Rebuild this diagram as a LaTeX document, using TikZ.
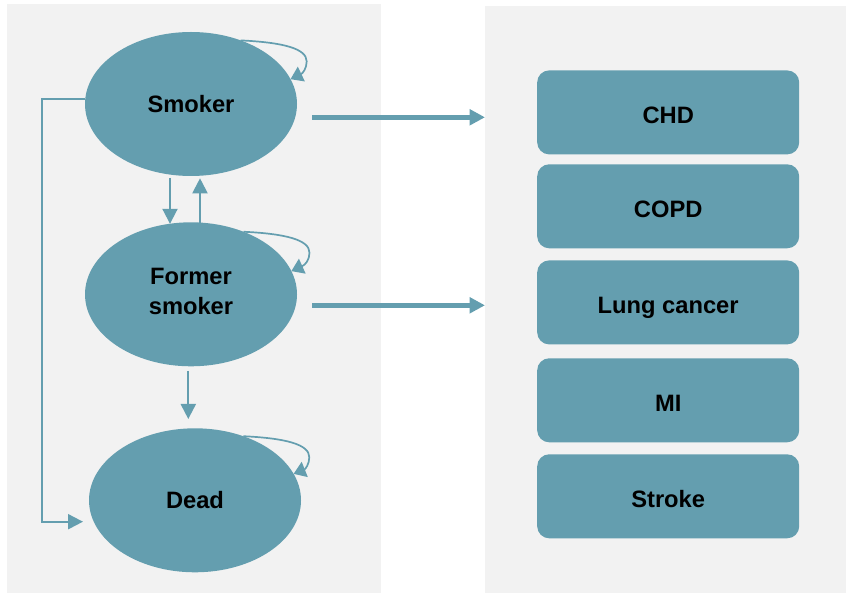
\documentclass[tikz,border=0pt]{standalone}
\usepackage{fontspec}
\setmainfont{Liberation Sans}
\usetikzlibrary{shapes.geometric,arrows.meta,calc}
\definecolor{tealfill}{HTML}{649EAF}
\definecolor{panelgray}{HTML}{F2F2F2}
\newcommand\mkloop[3]{%
  \draw[loopline] (#1.#2) .. controls ($(#1.#2)+(42,2)$) and ($(#1.#2)+(66,8)$) .. ($(#1.#2)+(66,21)$)
     .. controls ($(#1.#2)+(66,28)$) and ($(#1.#2)+(62,33)$) .. (#1.#3);}
\begin{document}
\begin{tikzpicture}[x=1pt,y=-1pt,
  panel/.style={draw=none,fill=panelgray,inner sep=0pt,outer sep=0pt},
  state/.style={ellipse,fill=tealfill,draw=none,minimum width=212pt,minimum height=144pt,inner sep=0pt,outer sep=0pt,
     align=center,font=\fontsize{23.7}{29.4}\selectfont\bfseries},
  outcome/.style={rectangle,rounded corners=12pt,fill=tealfill,draw=none,minimum width=262pt,minimum height=84pt,
     inner sep=0pt,text height=22.8pt,text depth=0pt,font=\fontsize{23.7}{29.4}\selectfont\bfseries},
  thinarrow/.style={draw=tealfill,line width=2pt,-{Triangle[length=15pt,width=15pt]}},
  bigarrow/.style={draw=tealfill,line width=5pt,-{Triangle[length=15.5pt,width=15.5pt]}},
  loopline/.style={draw=tealfill,line width=1.7pt,-{Triangle[length=12pt,width=16pt]}}]
\useasboundingbox (0,0) rectangle (846,593);
% panels
\node[panel,minimum width=374pt,minimum height=589pt] (lpanel) at (194,298.5) {};
\node[panel,minimum width=361pt,minimum height=587pt] (rpanel) at (665.5,299.5) {};
% states
\node[state] (smoker) at (191,104) {Smoker};
\node[state,text depth=6pt] (former) at (191,294.3) {Former\\smoker};
\node[state] (dead) at (195,500.3) {Dead};
% outcomes
\node[outcome] (chd) at (668.2,112.4) {CHD};
\node[outcome] (copd) at (668.2,206.3) {COPD};
\node[outcome] (lung) at (668.2,302.4) {Lung cancer};
\node[outcome] (mi) at (668.2,400.3) {MI};
\node[outcome] (stroke) at (668.2,496.3) {Stroke};
% self loops
\mkloop{smoker}{52}{14}
\mkloop{former}{50}{13}
\mkloop{dead}{53}{15}
% vertical transitions
\draw[thinarrow] ($(smoker.south)+(-21,2)$) -- ($(former.north)+(-21,1.5)$);
\draw[thinarrow] ($(former.north)+(9,0.5)$) -- ($(smoker.south)+(9,2.3)$);
\draw[thinarrow] ($(former.south)+(-2.7,4.7)$) -- ($(dead.north)+(-6.7,-9.3)$);
% smoker to dead
\coordinate (lc) at ($(smoker.west)+(-43.3,-5)$);
\coordinate (lt) at ($(dead.west)+(-6,21.4)$);
\draw[thinarrow] ($(smoker.west)+(0,-5)$) -- (lc) |- (lt);
% to outcomes
\coordinate (h1) at ($(smoker.east)+(15.3,13.3)$);
\coordinate (h2) at ($(former.east)+(15.3,11)$);
\draw[bigarrow] (h1) -- (h1 -| rpanel.west);
\draw[bigarrow] (h2) -- (h2 -| rpanel.west);
\end{tikzpicture}
\end{document}
